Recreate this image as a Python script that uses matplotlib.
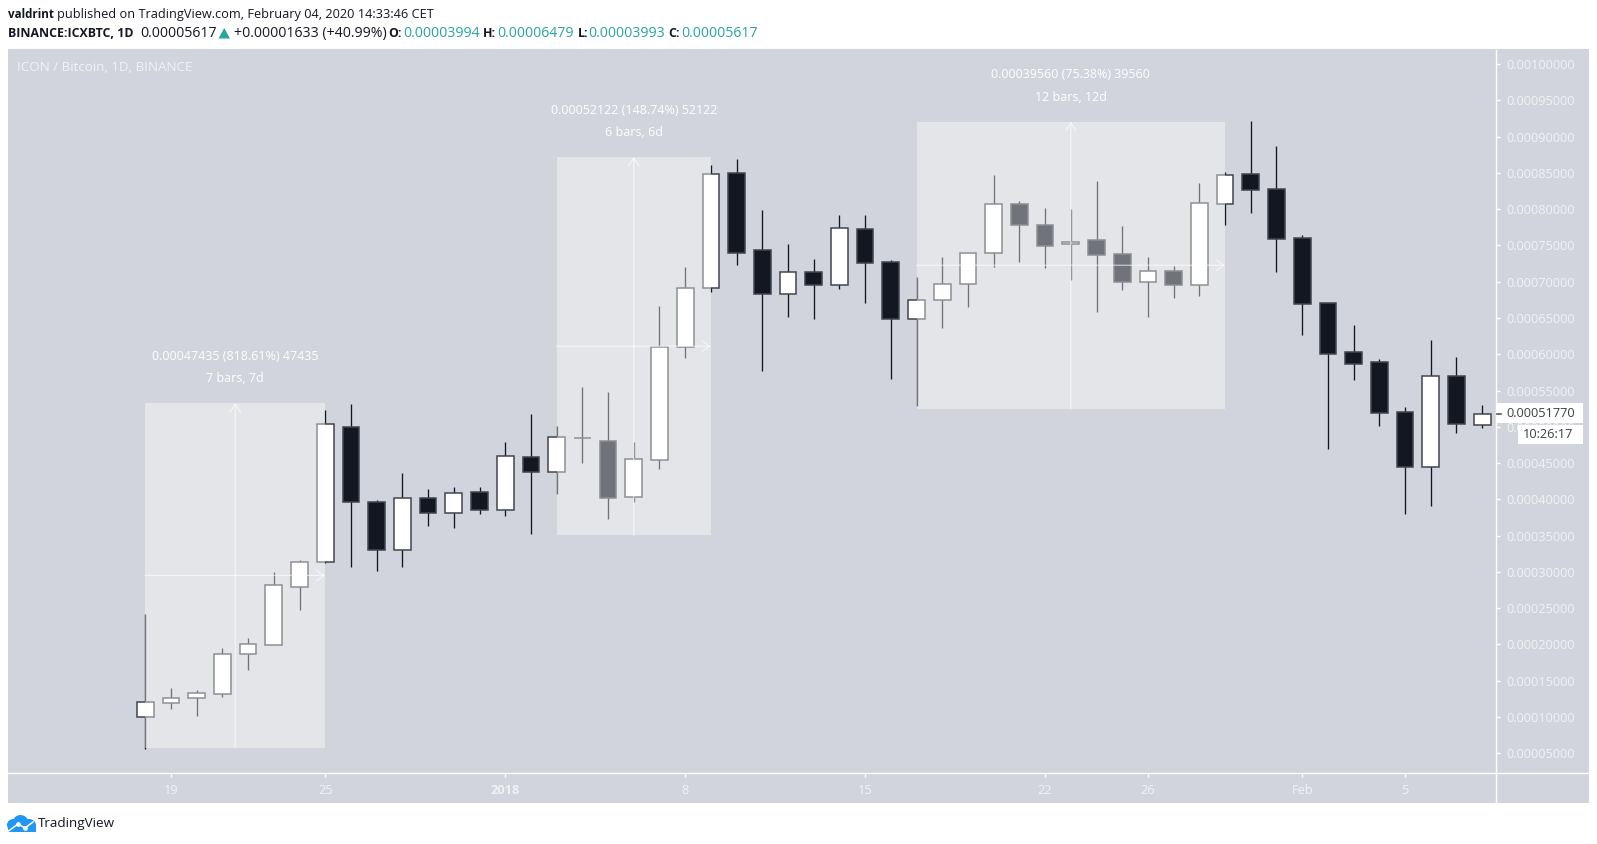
"""ICX/BTC daily candles with three measure boxes, TradingView snapshot style."""

import matplotlib
matplotlib.use("Agg")
import matplotlib.pyplot as plt
from matplotlib.patches import Ellipse, Polygon, Rectangle

W, H = 1597, 844
plt.rcParams["font.family"] = ["Open Sans", "DejaVu Sans"]

# prices in satoshi (1e-8 BTC), one entry per daily bar starting 18 Dec 2017
opens = [10040, 11890, 12660, 13130, 18640, 19930, 27960, 31320, 50010, 39680,
         32980, 40230, 38160, 40970, 38570, 45790, 43770, 48520, 48080, 40280,
         45420, 61030, 69080, 84930, 74320, 68300, 71290, 69500, 77210, 72670,
         64810, 67430, 69680, 73910, 80660, 77770, 75150, 75700, 73850, 69950,
         71430, 69540, 80740, 84790, 82810, 75980, 67020, 60260, 58890, 51990,
         44500, 56990, 50290]
highs = [24200, 13960, 13720, 19470, 20850, 30030, 31640, 52310, 53100, 39910,
         43590, 41420, 41740, 41740, 47940, 51760, 50070, 55520, 54750, 47940,
         66600, 72020, 86030, 86860, 79840, 75150, 73120, 79190, 79190, 72980,
         70600, 73400, 73990, 84660, 81160, 80110, 79970, 83870, 77630, 73400,
         72160, 83550, 85070, 92100, 88740, 76390, 67020, 64030, 59300, 52770,
         61920, 59620, 52960]
lows = [5550, 11150, 10180, 12800, 16440, 19930, 24750, 31180, 30670, 30170,
        30670, 36280, 36090, 37940, 37660, 35220, 40690, 45050, 37330, 39630,
        44140, 59480, 68570, 72340, 57650, 65090, 64900, 69030, 67060, 56630,
        52900, 63570, 66550, 72060, 72670, 71920, 70230, 65860, 68890, 65170,
        67790, 68070, 77850, 79500, 71290, 62690, 46940, 56450, 50070, 37980,
        39120, 49180, 49790]
closes = [12110, 12580, 13350, 18640, 20020, 28200, 31410, 50340, 39630, 33020,
          40180, 38120, 40910, 38570, 45930, 43730, 48550, 48460, 40140, 45520,
          61030, 69120, 84790, 73910, 68260, 71290, 69500, 77350, 72530, 64810,
          67470, 69640, 73990, 80660, 77850, 74950, 75510, 73720, 69910, 71430,
          69500, 80800, 84740, 82670, 75880, 66920, 60070, 58690, 51940, 44500,
          56990, 50380, 51770]

# measure tool boxes: bar span, price span, captions
measure_start = [0, 16, 30]
measure_end = [7, 22, 42]
measure_low = [5795, 35042, 52481]
measure_high = [53230, 87164, 92041]
measure_price_text = ["0.00047435 (818.61%) 47435",
                      "0.00052122 (148.74%) 52122",
                      "0.00039560 (75.38%) 39560"]
measure_bar_text = ["7 bars, 7d", "6 bars, 6d", "12 bars, 12d"]

# axis labels
date_ticks = [1, 7, 14, 21, 28, 35, 39, 45, 49]
date_labels = ["19", "25", "2018", "8", "15", "22", "26", "Feb", "5"]
price_ticks = list(range(5000, 100001, 5000))

BG = "#d1d4dc"
DARK = "#131722"
SOFT = "#f1f2f5"
GREEN = "#26a69a"


def sat_text(v):
    return f"{v * 1e-8:.8f}"


fig = plt.figure(figsize=(W / 100, H / 100), dpi=100, facecolor="white")
fig.patches.append(Rectangle((8 / W, 1 - 803 / H), 1581 / W, 754 / H,
                             transform=fig.transFigure, facecolor=BG,
                             edgecolor="none", zorder=-1))

# --- price pane -----------------------------------------------------------
ax = fig.add_axes([8 / W, 1 - 773.3 / H, 1488.3 / W, 723.8 / H], facecolor="none")
ax.set_xlim(-5.34, 52.55)
ax.set_ylim(2240, 102000)
for name in ("top", "left"):
    ax.spines[name].set_visible(False)
for name in ("right", "bottom"):
    ax.spines[name].set_color("white")
    ax.spines[name].set_linewidth(1.0)

for i in range(len(opens)):
    o, h, l, c = opens[i], highs[i], lows[i], closes[i]
    up = c >= o
    ax.vlines(i, l, h, color=DARK, lw=0.95, zorder=3)
    ax.bar(i, abs(c - o), bottom=min(o, c), width=0.65,
           color="white" if up else DARK, edgecolor="#41454f", lw=1.1, zorder=3.5)

# measure boxes sit on top of the candles and wash them out
for s, e, lo, hi, t1, t2 in zip(measure_start, measure_end, measure_low,
                                measure_high, measure_price_text, measure_bar_text):
    ax.add_patch(Rectangle((s, lo), e - s, hi - lo, facecolor="white",
                           alpha=0.4, edgecolor="none", zorder=4))
    xm = (s + e) / 2
    ym = (lo + hi) / 2
    style = dict(arrowstyle="->,head_length=0.55,head_width=0.38", color="white",
                 alpha=0.6, lw=0.9, shrinkA=0, shrinkB=0)
    ax.annotate("", xy=(xm, hi), xytext=(xm, lo), arrowprops=style, zorder=5)
    ax.annotate("", xy=(e, ym), xytext=(s, ym), arrowprops=style, zorder=5)
    ax.annotate(t1, xy=(xm, hi), xytext=(0, 47 * 0.72), textcoords="offset points",
                ha="center", va="center", color="white", fontsize=9, zorder=6)
    ax.annotate(t2, xy=(xm, hi), xytext=(0, 24.6 * 0.72), textcoords="offset points",
                ha="center", va="center", color="white", fontsize=9, zorder=6)

ax.yaxis.tick_right()
ax.set_yticks(price_ticks)
ax.set_yticklabels([sat_text(v) for v in price_ticks])
ax.tick_params(axis="y", length=2.9, width=1, color="white", labelcolor=SOFT,
               labelsize=9.2, pad=4)
ax.set_xticks(date_ticks)
ax.set_xticklabels(date_labels)
ax.tick_params(axis="x", length=2.9, width=1, color="white", labelcolor=SOFT,
               labelsize=9.2, pad=5)
for lab, txt in zip(ax.get_xticklabels(), date_labels):
    if txt == "2018":
        lab.set_fontweight("bold")

# --- everything outside the pane, in pixel coordinates --------------------
ov = fig.add_axes([0, 0, 1, 1], facecolor="none", zorder=5)
ov.set_xlim(0, W)
ov.set_ylim(H, 0)
ov.axis("off")

ov.plot([1496.3, 1496.3], [773, 803], color="white", lw=1.0)
ov.plot([1496.3, 1589], [773.3, 773.3], color="white", lw=1.0)

BOLD = 8.9
PLAIN = 9.2
NUM = 10.2
ov.text(7.5, 14.3, "valdrint", fontsize=8.4, fontweight="bold", color=DARK, va="center")
ov.text(57, 14.3, "published on TradingView.com, February 04, 2020 14:33:46 CET",
        fontsize=PLAIN, color=DARK, va="center")
ov.text(7.5, 33.3, "BINANCE:ICXBTC, 1D", fontsize=BOLD, fontweight="bold", color=DARK, va="center")
ov.text(140, 33.3, "0.00005617", fontsize=NUM, color=DARK, va="center")
ov.add_patch(Polygon([(218.5, 38.5), (230, 38.5), (224.2, 28)], facecolor=GREEN, edgecolor="none"))
ov.text(234, 33.3, "+0.00001633 (+40.99%)", fontsize=NUM, color=DARK, va="center")
for x_key, key, x_val, val in [(388, "O:", 403, "0.00003994"), (483, "H:", 497.5, "0.00006479"),
                               (577.5, "L:", 588, "0.00003993"), (668, "C:", 681.5, "0.00005617")]:
    ov.text(x_key, 33.3, key, fontsize=BOLD, fontweight="bold", color=DARK, va="center")
    ov.text(x_val, 33.3, val, fontsize=NUM, color=GREEN, va="center")

ov.text(17, 67.5, "ICON / Bitcoin, 1D, BINANCE", fontsize=9.6, color=SOFT, va="center")

# last price tag and countdown
ov.add_patch(Rectangle((1497, 403), 86, 20, facecolor="white", edgecolor="none"))
ov.add_patch(Rectangle((1518, 425), 65, 19, facecolor="white", edgecolor="none"))
ov.plot([1497, 1501], [413.5, 413.5], color="#555963", lw=1.2)
ov.text(1506, 413.7, sat_text(closes[-1]), fontsize=9.2, color="#3a3e48", va="center")
ov.text(1523, 434.5, "10:26:17", fontsize=9.2, color="#3a3e48", va="center")

# logo
BLUE = "#2196f3"
for cx, cy, rw, rh in [(13.5, 825, 6.5, 6), (20.5, 822, 7.5, 7), (29, 825.5, 7, 6.5)]:
    ov.add_patch(Ellipse((cx, cy), rw * 2, rh * 2, facecolor=BLUE, edgecolor="none"))
ov.add_patch(Rectangle((8, 825), 28, 7, facecolor=BLUE, edgecolor="none"))
ov.plot([8.5, 18, 25, 33], [831, 824, 828, 822], color="white", lw=1.1,
        marker="o", markersize=2.4, markevery=[1, 2])
ov.text(38, 823, "TradingView", fontsize=9.7, color=DARK, va="center")

fig.savefig("out.png", dpi=100)
